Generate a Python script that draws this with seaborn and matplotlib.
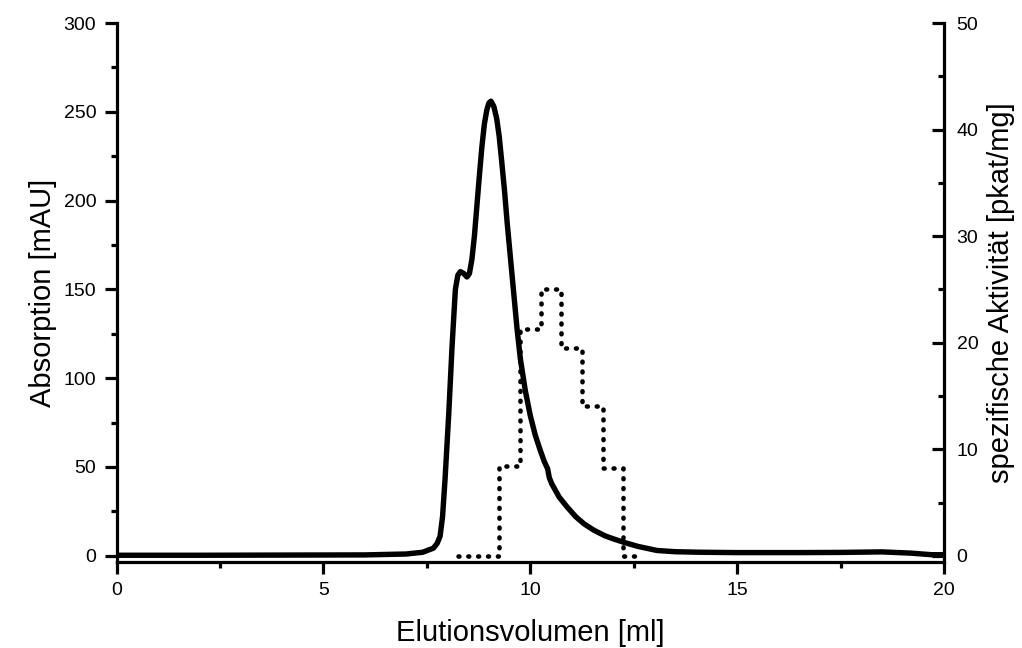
import numpy as np
import pandas as pd
import matplotlib
matplotlib.use("Agg")
import matplotlib.pyplot as plt
from matplotlib.ticker import MultipleLocator
import seaborn as sns

# absorption trace
vol = [0.0, 2.0, 4.0, 6.0, 7.0, 7.4, 7.66, 7.75, 7.82, 7.88, 7.94, 8.03, 8.11,
       8.19, 8.25, 8.31, 8.39, 8.47, 8.53, 8.59, 8.65, 8.71, 8.77, 8.83, 8.89,
       8.95, 9.0, 9.05, 9.12, 9.19, 9.25, 9.31, 9.38, 9.44, 9.52, 9.6, 9.68,
       9.76, 9.88, 10.0, 10.12, 10.24, 10.34, 10.42, 10.46, 10.52, 10.7, 10.89,
       11.1, 11.3, 11.53, 11.8, 12.0, 12.26, 12.6, 13.06, 13.5, 14.1, 15.0,
       16.5, 17.5, 18.5, 19.2, 19.7, 20.0]
absorption = [0.3, 0.3, 0.4, 0.5, 1.0, 2.0, 4.3, 7.0, 11.0, 22.0, 43.0, 80.0,
              118.0, 150.0, 158.0, 160.0, 159.0, 157.0, 159.0, 167.0, 180.0,
              197.0, 214.0, 230.0, 243.0, 251.0, 255.0, 256.0, 253.0, 246.0,
              236.0, 222.0, 205.0, 188.0, 168.0, 148.0, 128.0, 111.0, 93.0,
              79.0, 68.0, 59.5, 53.0, 49.0, 44.0, 40.5, 33.0, 27.5, 22.0, 18.0,
              14.5, 11.3, 9.6, 7.6, 5.3, 3.0, 2.3, 2.0, 1.8, 1.8, 1.9, 2.2,
              1.5, 0.6, 0.6]

# specific activity per fraction
frac_start = [8.25, 8.75, 9.25, 9.75, 10.25, 10.75, 11.25, 11.75, 12.25, 12.55]
activity = [0.0, 0.0, 8.4, 21.3, 25.0, 19.5, 14.1, 8.2, 0.0, 0.0]

df_abs = pd.DataFrame({"vol": vol, "abs": absorption})
df_act = pd.DataFrame({"vol": frac_start, "act": activity})

sns.set_style("ticks")
plt.rcParams["font.family"] = ["Liberation Sans", "DejaVu Sans"]

fig = plt.figure(figsize=(10.22, 6.48), dpi=100)
ax = fig.add_axes([0.114, 0.1327, 0.8097, 0.8318])
ax2 = ax.twinx()

sns.lineplot(data=df_abs, x="vol", y="abs", ax=ax, color="black", lw=3.9)
sns.lineplot(data=df_act, x="vol", y="act", ax=ax2, color="black", lw=3.3,
             drawstyle="steps-post")
for ln in ax.lines:
    ln.set_solid_joinstyle("round")
    ln.set_solid_capstyle("round")
for ln in ax2.lines:
    ln.set_linestyle((0, (0.2, 1.95)))
    ln.set_dash_capstyle("round")

ax.set_xlim(0, 20)
ax.set_ylim(-3.5, 300)
ax2.set_ylim(-3.5 / 6, 50)

ax.xaxis.set_major_locator(MultipleLocator(5))
ax.xaxis.set_minor_locator(MultipleLocator(2.5))
ax.yaxis.set_major_locator(MultipleLocator(50))
ax.yaxis.set_minor_locator(MultipleLocator(25))
ax2.yaxis.set_major_locator(MultipleLocator(10))
ax2.yaxis.set_minor_locator(MultipleLocator(5))

for a in (ax, ax2):
    a.spines["top"].set_visible(False)
    for s in a.spines.values():
        s.set_linewidth(2.3)
        s.set_color("black")
ax.spines["right"].set_visible(False)
ax2.spines["left"].set_visible(False)
ax2.spines["bottom"].set_visible(False)

ax.tick_params(which="major", length=8.6, width=2.3, labelsize=14, pad=6,
               direction="out", color="black", labelcolor="black")
ax.tick_params(which="minor", length=4.3, width=2.3, direction="out",
               color="black")
ax2.tick_params(which="major", length=8.6, width=2.3, labelsize=14, pad=9,
                direction="in", color="black", labelcolor="black")
ax2.tick_params(which="minor", length=4.3, width=2.3, direction="in",
                color="black")

ax.set_xlabel("Elutionsvolumen [ml]", fontsize=21, labelpad=14, color="black")
ax.set_ylabel("Absorption [mAU]", fontsize=21, labelpad=5, color="black")
ax2.set_ylabel("spezifische Aktivität [pkat/mg]", fontsize=21, labelpad=6,
               color="black")

fig.savefig("out.png", dpi=100)
